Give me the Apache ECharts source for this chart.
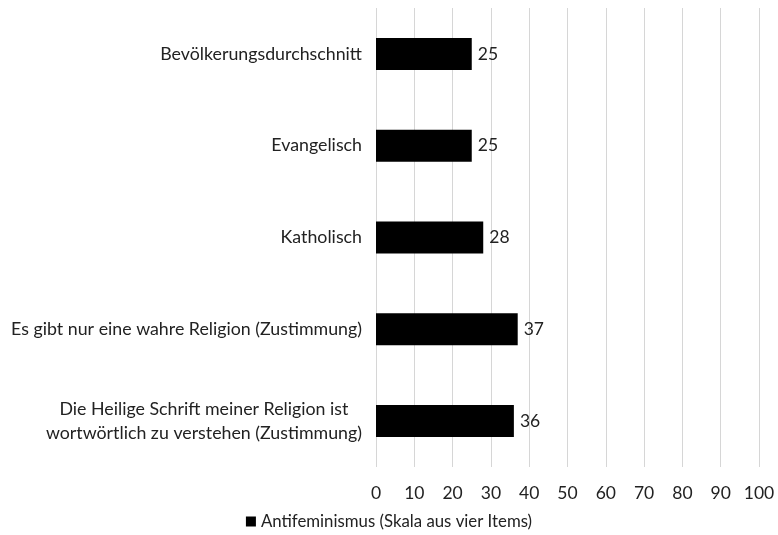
<!DOCTYPE html>
<html><head><meta charset="utf-8">
<script src="https://cdn.jsdelivr.net/npm/echarts@6/dist/echarts.min.js"></script>
<style>html,body{margin:0;padding:0;background:#fff}#c{width:778px;height:535px}</style>
</head><body><div id="c"></div>
<script>
const categories = [
  "Bevölkerungsdurchschnitt",
  "Evangelisch",
  "Katholisch",
  "Es gibt nur eine wahre Religion (Zustimmung)",
  "Die Heilige Schrift meiner Religion ist\nwortwörtlich zu verstehen (Zustimmung)"
];
const values = [25, 25, 28, 37, 36];
const seriesName = "Antifeminismus (Skala aus vier Items)";
const xTicks = [0, 10, 20, 30, 40, 50, 60, 70, 80, 90, 100];

const font = "Lato, sans-serif";
const fs = 17.8;
const chart = echarts.init(document.getElementById('c'), null, {renderer: 'canvas'});
chart.setOption({
  animation: false,
  textStyle: {fontFamily: font},
  grid: {left: 376, right: 19, top: 8, bottom: 68, containLabel: false},
  legend: {
    bottom: 0, left: 'center',
    itemWidth: 10, itemHeight: 10, itemGap: 6,
    icon: 'rect',
    textStyle: {fontSize: 16.8, color: '#222', fontFamily: font},
    data: [seriesName]
  },
  xAxis: {
    type: 'value', min: xTicks[0], max: xTicks[xTicks.length - 1], interval: 10,
    axisLine: {show: false}, axisTick: {show: false},
    axisLabel: {fontSize: 17.5, color: '#222', margin: 17, fontFamily: font},
    splitLine: {show: true, lineStyle: {color: '#d6d6d6', width: 1}}
  },
  yAxis: {
    type: 'category', inverse: true, data: categories,
    axisLine: {show: false}, axisTick: {show: false},
    axisLabel: {
      fontSize: fs, color: '#222', margin: 14, fontFamily: font,
      formatter: function (v) { return v.split('\n').map(l => '{c|' + l + '}').join('\n'); },
      rich: {c: {fontSize: fs, color: '#222', fontFamily: font, align: 'center', lineHeight: 24}}
    }
  },
  series: [{
    name: seriesName, type: 'bar', data: values, barWidth: 32,
    itemStyle: {color: '#000'},
    label: {show: true, position: 'right', distance: 6, fontSize: 17.5, color: '#222', fontFamily: font}
  }]
});
</script></body></html>
